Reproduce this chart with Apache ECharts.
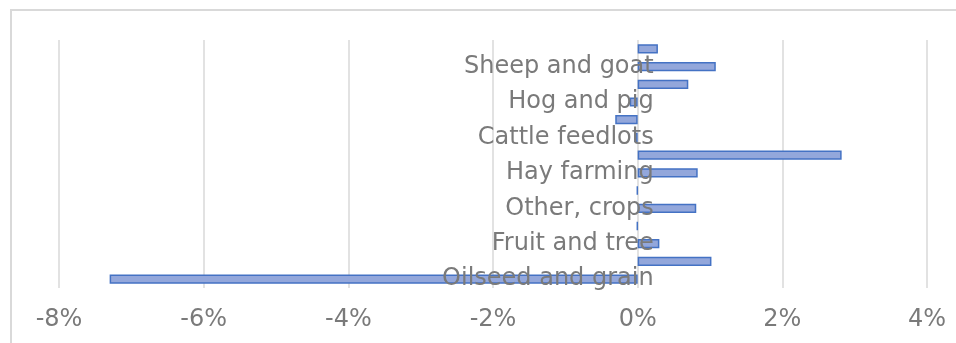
<!DOCTYPE html>
<html>
<head>
<meta charset="utf-8">
<script src="https://cdn.jsdelivr.net/npm/echarts@6/dist/echarts.min.js"></script>
<style>
  html, body { margin: 0; padding: 0; background: #ffffff; }
  #chart { width: 956px; height: 343px; }
</style>
</head>
<body>
<div id="chart"></div>
<script>
// Farm industries, listed bottom to top; every other one carries a visible label
const industries = [
  'Oilseed and grain', 'Vegetable and melon', 'Fruit and tree', 'Greenhouse and nursery',
  'Other, crops', 'Tobacco', 'Hay farming', 'Dairy cattle',
  'Cattle feedlots', 'Beef cattle ranching', 'Hog and pig', 'Poultry and egg',
  'Sheep and goat', 'Other, animals'
];
// Percentage change per industry
const changePct = [
  -7.30, 1.02, 0.30, -0.01,
  0.81, -0.01, 0.83, 2.82,
  -0.05, -0.31, -0.11, 0.70,
  1.08, 0.28
];
// Value-axis range and step (percent)
const axisMin = -8;
const axisMax = 4;
const axisStep = 2;

const labelGray = '#7a7a7a';
const gridGray = '#d9d9d9';
const fontFamily = 'DejaVu Sans';
const gridLeft = 59;
// category labels end a little to the right of the zero line
const labelOverhang = 16;

const chart = echarts.init(document.getElementById('chart'));
chart.setOption({
  animation: false,
  backgroundColor: '#ffffff',
  graphic: [{
    type: 'rect',
    shape: { x: 11, y: 10, width: 980, height: 400 },
    style: { fill: 'none', stroke: gridGray, lineWidth: 2 },
    silent: true
  }],
  grid: { left: gridLeft, right: 29, top: 40, bottom: 55, containLabel: false, outerBoundsMode: 'none' },
  xAxis: {
    type: 'value',
    min: axisMin,
    max: axisMax,
    interval: axisStep,
    axisLine: { show: false },
    axisTick: { show: false },
    splitLine: { show: true, lineStyle: { color: gridGray, width: 1.5 } },
    axisLabel: {
      color: labelGray,
      fontFamily: fontFamily,
      fontSize: 24,
      margin: 20,
      formatter: v => v + '%'
    }
  },
  yAxis: {
    type: 'category',
    data: industries,
    z: 5,
    axisLine: { show: false },
    axisTick: { show: false },
    splitLine: { show: false },
    axisLabel: {
      interval: 1,
      color: labelGray,
      fontFamily: fontFamily,
      fontSize: 24,
      align: 'right',
      margin: 0
    }
  },
  series: [{
    type: 'bar',
    data: changePct,
    barCategoryGap: '48%',
    itemStyle: {
      color: '#93a7db',
      borderColor: '#4472c4',
      borderWidth: 1.5
    },
    z: 1
  }]
});

// Category labels sit beside the zero line rather than at the grid edge
const zeroX = chart.convertToPixel({ xAxisIndex: 0 }, 0);
chart.setOption({
  yAxis: { axisLabel: { margin: -(zeroX - gridLeft + labelOverhang) } }
});
</script>
</body>
</html>
